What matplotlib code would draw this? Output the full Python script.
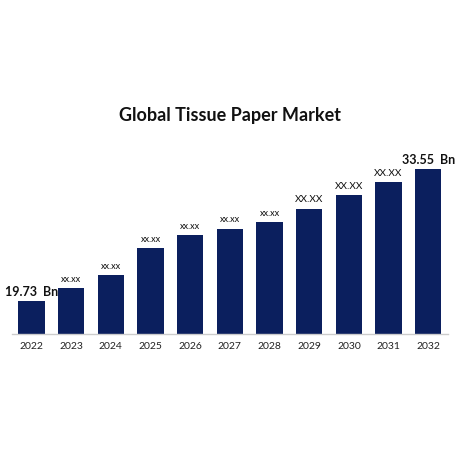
import matplotlib
matplotlib.use("Agg")
from matplotlib import pyplot as plt

# values (axis does not start at zero)
years  = ['2022', '2023', '2024', '2025', '2026', '2027', '2028', '2029', '2030', '2031', '2032']
values = [19.73, 21.08, 22.47, 25.26, 26.62, 27.31, 28.01, 29.40, 30.80, 32.19, 33.55]
labels = ['19.73  Bn', 'xx.xx', 'xx.xx', 'xx.xx', 'xx.xx', 'xx.xx', 'xx.xx', 'XX.XX', 'XX.XX', 'XX.XX', '33.55  Bn']

plt.rcParams['font.family'] = ['Lato', 'DejaVu Sans']

fig = plt.figure(figsize=(4.6, 4.6), dpi=100)
ax = fig.add_axes([0.0254, 0.2717, 0.9486, 0.38])

x = list(range(len(years)))
bars = ax.bar(x, values, width=0.67, color='#0b1f5e', zorder=2)

ax.set_xlim(-0.5, 10.5)
ax.set_ylim(16.31, 34.59)
ax.set_xticks(x)
ax.set_xticklabels(years, fontsize=7.5, color='#222222')
ax.tick_params(axis='x', length=0, pad=5)
ax.set_yticks([])
for s in ['top', 'right', 'left']:
    ax.spines[s].set_visible(False)
ax.spines['bottom'].set_color('#cccccc')
ax.spines['bottom'].set_linewidth(1.0)

for i, (v, lab) in enumerate(zip(values, labels)):
    if 'Bn' in lab:
        ax.annotate(lab, (i, v), xytext=(0, 3), textcoords='offset points',
                    ha='center', va='bottom', fontsize=9, fontweight='bold', color='#111111')
    elif lab.isupper():
        ax.annotate(lab, (i, v), xytext=(0, 4), textcoords='offset points',
                    ha='center', va='bottom', fontsize=7.2, color='#111111')
    else:
        ax.annotate(lab, (i, v), xytext=(0, 4), textcoords='offset points',
                    ha='center', va='bottom', fontsize=6.6, color='#111111')

fig.text(0.5, 1 - 116 / 460, 'Global Tissue Paper Market', ha='center', va='center',
         fontsize=13, fontweight='bold', color='#111111')

fig.savefig('out.png', dpi=100, facecolor='white')
